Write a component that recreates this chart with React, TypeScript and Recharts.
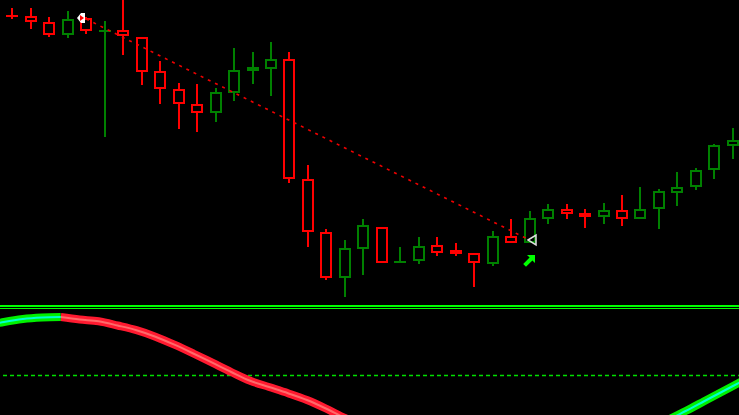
import { ComposedChart, Bar, Line, XAxis, YAxis, ReferenceLine } from 'recharts'

// price in chart points (higher = higher price)
const openPrice = [284, 284, 278, 265, 282, 268, 270, 263, 229, 211, 196, 187, 207, 229, 231, 241, 121, 68, 22, 51, 73, 37, 39, 55, 50, 47, 36, 64, 57, 81, 91, 87, 83, 90, 81, 91, 107, 113, 130, 154]
const highPrice = [292, 292, 283, 289, 283, 279, 300, 263, 239, 217, 216, 212, 252, 248, 258, 248, 135, 71, 60, 81, 73, 53, 63, 63, 57, 47, 69, 81, 89, 96, 96, 91, 97, 105, 113, 111, 128, 132, 156, 172]
const lowPrice = [281, 271, 263, 262, 266, 163, 245, 215, 196, 171, 168, 178, 199, 216, 204, 117, 53, 20, 3, 25, 37, 37, 36, 44, 44, 13, 34, 57, 57, 76, 81, 72, 76, 74, 81, 71, 94, 110, 121, 141]
const closePrice = [284, 278, 265, 281, 269, 270, 264, 228, 211, 196, 187, 208, 230, 233, 241, 121, 68, 22, 52, 75, 37, 39, 54, 47, 46, 37, 64, 57, 82, 91, 86, 83, 90, 81, 91, 109, 113, 130, 155, 160]

// lower window oscillator (0 = dotted level); first value is the bar just left of the window
const oscillator = [49, 53, 56, 57.5, 58, 55.5, 53.7, 49.5, 44.8, 38.3, 30.3, 21.5, 12.3, 3, -5.8, -12, -18.2, -25, -33.5, -43, -51, -57, -62, -65, -67, -68, -67.5, -66, -64, -62, -60, -58, -56, -54, -51, -48, -45, -36, -26, -16, -6]

const trendStart = { bar: 4, price: 281 }
const trendEnd = { bar: 28, price: 60 }
const flagMark = { bar: 4, price: 282 }
const closeMark = { bar: 28, price: 60 }
const buyArrow = { bar: 28, price: 38 }

const barIndex = openPrice.map((_, i) => i)

const priceRows = barIndex.map(i => ({
  bar: i,
  open: openPrice[i],
  high: highPrice[i],
  low: lowPrice[i],
  close: closePrice[i],
  range: [lowPrice[i], highPrice[i]],
  trend: i === trendStart.bar ? trendStart.price : i === trendEnd.bar ? trendEnd.price : null,
  flag: i === flagMark.bar ? flagMark.price : null,
  tri: i === closeMark.bar ? closeMark.price : null,
  arrow: i === buyArrow.bar ? buyArrow.price : null,
}))

const oscRows = oscillator.map((v, j) => {
  const prev = oscillator[j - 1]
  const next = oscillator[j + 1]
  const rising = (prev !== undefined && v > prev) || (next !== undefined && next > v)
  const falling = (prev !== undefined && v < prev) || (next !== undefined && next < v)
  return { bar: j - 1, up: rising ? v : null, down: falling ? v : null }
})

const BAND = 739 / 40

const Candle = (props: any) => {
  const { x, y, width, height, payload } = props
  const { open, close, high, low } = payload
  const cx = Math.round(x + width / 2)
  const k = height / (high - low)
  const top = Math.round(y + (high - Math.max(open, close)) * k)
  const bot = Math.round(y + (high - Math.min(open, close)) * k)
  const color = close > open ? '#008000' : '#ff0000'
  return (
    <g>
      <line x1={cx} x2={cx} y1={y} y2={y + height} stroke={color} strokeWidth={2} />
      {bot - top < 3 ? (
        <line x1={cx - 6} x2={cx + 6} y1={(top + bot) / 2} y2={(top + bot) / 2} stroke={color} strokeWidth={2} />
      ) : (
        <rect x={cx - 5} y={top + 1} width={10} height={bot - top - 2} fill="#000" stroke={color} strokeWidth={2} />
      )}
    </g>
  )
}

const FlagDot = (props: any) => {
  const { cx, cy, value } = props
  if (value == null || cy == null) return <g />
  const x = Math.round(cx)
  return (
    <g>
      <polygon points={`${x - 9},${cy} ${x - 5},${cy - 5} ${x - 1},${cy - 5} ${x - 1},${cy + 5} ${x - 5},${cy + 5}`} fill="#fff" />
      <polygon points={`${x - 6},${cy - 3} ${x - 2},${cy} ${x - 6},${cy + 3}`} fill="#ff0000" />
    </g>
  )
}

const TriDot = (props: any) => {
  const { cx, cy, value } = props
  if (value == null || cy == null) return <g />
  const x = Math.round(cx)
  return <polygon points={`${x - 2},${cy} ${x + 6},${cy - 5} ${x + 6},${cy + 5}`} fill="none" stroke="#e0e0e0" strokeWidth={1.5} />
}

const ArrowDot = (props: any) => {
  const { cx, cy, value } = props
  if (value == null || cy == null) return <g />
  const x = Math.round(cx) - 1
  const p = [[6, -7], [6, 1], [3.4, -1.6], [-3, 4.8], [-5.8, 2], [0.6, -4.4], [-2, -7]]
  return <polygon points={p.map(([a, b]) => `${x + a},${cy + b}`).join(' ')} fill="#00ff00" />
}

export default function App() {
  return (
    <div style={{ position: 'absolute', top: 0, left: 0, width: 739, height: 415, background: '#000', overflow: 'hidden' }}>
      <div style={{ position: 'absolute', top: 0, left: 0 }}>
        <ComposedChart width={745} height={300} data={priceRows} margin={{ top: 0, right: 0, bottom: 0, left: 0 }}>
          <XAxis dataKey="bar" type="category" hide padding={{ left: 3, right: 3 }} />
          <YAxis hide domain={[0, 300]} allowDataOverflow />
          <Line dataKey="trend" type="linear" connectNulls stroke="#f00000" strokeWidth={1.6} strokeDasharray="3 5" dot={false} isAnimationActive={false} />
          <Bar dataKey="range" shape={Candle} isAnimationActive={false} />
          <Line dataKey="flag" stroke="none" dot={FlagDot} isAnimationActive={false} />
          <Line dataKey="tri" stroke="none" dot={TriDot} isAnimationActive={false} />
          <Line dataKey="arrow" stroke="none" dot={ArrowDot} isAnimationActive={false} />
        </ComposedChart>
      </div>
      <div style={{ position: 'absolute', top: 304, left: -BAND }}>
        <ComposedChart width={745 + BAND} height={111} data={oscRows} margin={{ top: 0, right: 0, bottom: 0, left: 0 }}>
          <XAxis dataKey="bar" type="category" hide padding={{ left: 3, right: 3 }} />
          <YAxis hide domain={[-40, 71]} allowDataOverflow />
          <ReferenceLine y={69} stroke="#00ff00" strokeWidth={2} />
          <ReferenceLine y={66.5} stroke="#00ff00" strokeWidth={1} />
          <ReferenceLine y={-0.5} stroke="#00e000" strokeWidth={1.5} strokeDasharray="4 3" />
          <Line dataKey="down" type="monotone" stroke="#ff1a30" strokeWidth={8} dot={false} isAnimationActive={false} />
          <Line dataKey="down" type="monotone" stroke="#ff6a6a" strokeWidth={2} dot={false} isAnimationActive={false} />
          <Line dataKey="up" type="monotone" stroke="#00f000" strokeWidth={8} dot={false} isAnimationActive={false} />
          <Line dataKey="up" type="monotone" stroke="#00ffd0" strokeWidth={2} dot={false} isAnimationActive={false} />
        </ComposedChart>
      </div>
    </div>
  )
}
